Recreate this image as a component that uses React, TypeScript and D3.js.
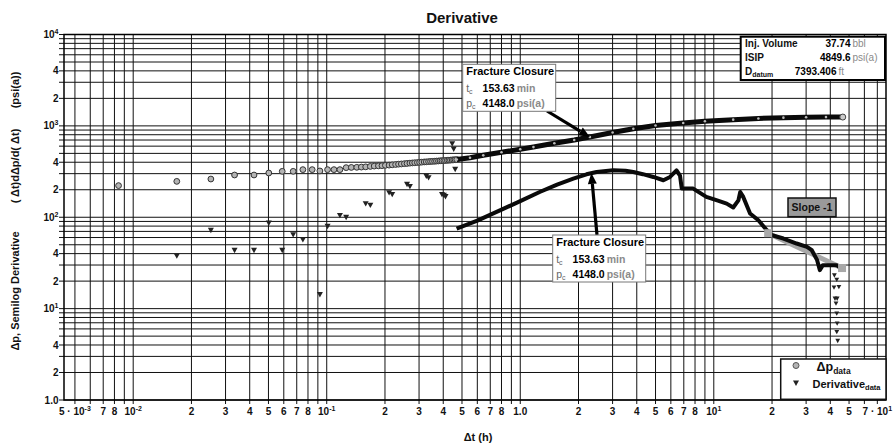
import React from "react";
import * as d3 from "d3";

// ---- values (time in h, pressure in psi) ----
// delta p, early sparse markers
const dpTime = [0.0084, 0.0168, 0.0252, 0.0334, 0.0421, 0.0502, 0.0589, 0.0671, 0.0753, 0.0841, 0.0922, 0.101, 0.109, 0.117,
  0.126, 0.134, 0.143, 0.151, 0.159, 0.168, 0.176, 0.185, 0.193, 0.201, 0.21, 0.218, 0.227, 0.235, 0.243, 0.252, 0.26, 0.269,
  0.277, 0.285, 0.294, 0.302, 0.31, 0.319, 0.327, 0.336, 0.344, 0.352, 0.361, 0.369, 0.378, 0.386, 0.394, 0.403, 0.411, 0.42,
  0.428, 0.436, 0.445, 0.453, 0.461, 0.47];
const dpValue = [222, 247, 262, 290, 290, 305, 318, 318, 332, 332, 321, 332, 332, 332,
  349, 351, 352, 354, 356, 360, 363, 365, 367, 370, 372, 375, 378, 381, 383, 386, 388, 391,
  393, 395, 397, 399, 401, 403, 404, 406, 408, 409, 410, 412, 413, 415, 416, 417, 418, 420,
  421, 422, 424, 425, 426, 428];
// delta p, dense part (markers overlap into a thick band)
const dpLineTime = [0.47, 0.55, 0.644, 0.8, 1.0, 1.17, 1.5, 1.9, 2.29, 3.0, 3.84, 5.0, 6.95, 9.0, 12.6, 17, 22.9, 30, 38, 46.4];
const dpLineValue = [428, 448, 476, 515, 555, 586, 645, 700, 755, 845, 931, 1010, 1074, 1125, 1170, 1205, 1230, 1242, 1247, 1249];

// semilog derivative, early sparse markers
const derivTime = [0.0168, 0.0252, 0.0334, 0.0421, 0.0502, 0.0589, 0.0671, 0.0753, 0.0922, 0.101, 0.117, 0.126, 0.159, 0.168,
  0.21, 0.218, 0.26, 0.269, 0.327, 0.336, 0.394, 0.403, 0.411, 0.445, 0.453, 0.461];
const derivValue = [37.8, 72.1, 43.6, 43.6, 86.7, 43.6, 64.7, 57.0, 14.3, 79.8, 105, 100, 141, 136,
  186, 178, 230, 218, 283, 272, 178, 174, 169, 640, 560, 335];
// semilog derivative, dense part
const derivLineTime = [0.469, 0.6, 0.785, 1.0, 1.26, 1.55, 1.88, 2.2, 2.48, 3.02, 3.5, 3.84, 4.3, 4.87, 5.49, 5.94, 6.42, 6.69,
  6.83, 7.83, 9.15, 10.5, 11.66, 12.6, 13.4, 13.7, 14.2, 15.4, 17.0, 18.8, 20, 22.9, 26.8, 30.3, 32.1, 34.2, 35.3, 36.6, 39.7,
  43.1, 45.7, 46.6];
const derivLineValue = [75.3, 92, 119, 150, 189, 228, 265, 295, 313, 326, 322, 313, 296, 276, 254, 276, 326, 286,
  206, 206, 167, 152, 141, 128, 153, 189, 167, 110, 92.7, 72.1, 63.6, 58.5, 51.6, 47.5, 43.6, 33.9, 26.4, 29.9, 29.9,
  29.9, 27.5, 29.1];
// late scattered derivative points
const derivTailTime = [42.0, 43.2, 41.8, 44.3, 42.3, 43.4, 42.8, 43.2, 43.4, 43.2, 43.7];
const derivTailValue = [23.2, 20.8, 17.1, 17.3, 12.9, 12.9, 11.4, 8.87, 6.89, 5.57, 4.45];

// slope -1 guide
const slopeTime = [19.1, 46.0];
const slopeValue = [66.9, 27.8];

// closure pointers (arrow tips)
const closureDp = [2.29, 755];
const closureDeriv = [2.33, 305];

const xTickValues = [0.005, 0.007, 0.008, 0.01, 0.02, 0.03, 0.04, 0.05, 0.06, 0.07, 0.08, 0.1,
  0.2, 0.3, 0.4, 0.5, 0.6, 0.7, 0.8, 1, 2, 3, 4, 5, 6, 7, 8, 10, 20, 30, 40, 50, 70];
const xTickLabels = ["5 · 10^-3", "7", "8", "10^-2", "2", "3", "4", "5", "6", "7", "8", "10^-1",
  "2", "3", "4", "5", "6", "7", "8", "1.0", "2", "3", "4", "5", "6", "7", "8", "10^1", "2", "3", "4", "5", "7 · 10^1"];
const yTickValues = [1, 2, 4, 10, 20, 40, 100, 200, 400, 1000, 2000, 4000, 10000];
const yTickLabels = ["1.0", "2", "4", "10^1", "2", "4", "10^2", "2", "4", "10^3", "2", "4", "10^4"];

const infoLabels = ["Inj. Volume", "ISIP", "D_datum"];
const infoValues = ["37.74", "4849.6", "7393.406"];
const infoUnits = ["bbl", "psi(a)", "ft"];

const FONT = "Arial, 'Liberation Sans', Helvetica, sans-serif";

// "10^-2" -> superscript, "p_c" -> subscript
function rich(s: string, small: number, shift: number) {
  const m = s.match(/^(.*?)([\^_])(.*)$/);
  if (!m) return s;
  const up = m[2] === "^";
  return [
    <tspan key="a">{m[1]}</tspan>,
    <tspan key="b" fontSize={small} dy={up ? -shift : shift * 0.7}>{m[3]}</tspan>,
  ];
}

function Arrow({ x1, y1, x2, y2 }: { x1: number; y1: number; x2: number; y2: number }) {
  const a = Math.atan2(y2 - y1, x2 - x1);
  const L = 11, hw = 4.5;
  const bx = x2 - L * Math.cos(a), by = y2 - L * Math.sin(a);
  const px = -Math.sin(a) * hw, py = Math.cos(a) * hw;
  return (
    <g>
      <line x1={x1} y1={y1} x2={bx} y2={by} stroke="#000" strokeWidth={3.2} />
      <path d={`M${x2},${y2}L${bx + px},${by + py}L${bx - px},${by - py}Z`} fill="#000" />
    </g>
  );
}

function ClosureBox({ x0, y0 }: { x0: number; y0: number }) {
  return (
    <g fontFamily={FONT}>
      <rect x={x0} y={y0} width={93} height={47} fill="#fff" stroke="#777" strokeWidth={1} />
      <text x={x0 + 3.5} y={y0 + 10.5} fontSize={11} fontWeight="bold" fill="#000">Fracture Closure</text>
      <text x={x0 + 3.5} y={y0 + 28} fontSize={10.5} fill="#666">{rich("t_c", 7, 3)}</text>
      <text x={x0 + 52} y={y0 + 28} fontSize={10.5} fontWeight="bold" fill="#000" textAnchor="end">153.63</text>
      <text x={x0 + 54} y={y0 + 28} fontSize={10.5} fontWeight="bold" fill="#8a8a8a">min</text>
      <text x={x0 + 3.5} y={y0 + 43} fontSize={10.5} fill="#666">{rich("p_c", 7, 3)}</text>
      <text x={x0 + 52} y={y0 + 43} fontSize={10.5} fontWeight="bold" fill="#000" textAnchor="end">4148.0</text>
      <text x={x0 + 54} y={y0 + 43} fontSize={10.5} fontWeight="bold" fill="#8a8a8a">psi(a)</text>
    </g>
  );
}

function TriDown({ cx, cy, s = 1 }: { cx: number; cy: number; s?: number }) {
  return <path d={`M${cx - 3 * s},${cy - 2.4 * s}L${cx + 3 * s},${cy - 2.4 * s}L${cx},${cy + 3 * s}Z`} fill="#222" />;
}

export default function App() {
  const width = 893, height = 447;
  const left = 64, right = 886, top = 34.5, bottom = 400;

  const x = d3.scaleLog().domain([0.00439, 77.6]).range([left, right]);
  const y = d3.scaleLog().domain([1, 10000]).range([bottom, top]);
  const line = d3.line<number>();

  const dpLine = d3.line<number>().x((d, i) => x(dpLineTime[i])).y(d => y(d))(dpLineValue) || "";
  const derivLine = d3.line<number>().x((d, i) => x(derivLineTime[i])).y(d => y(d))(derivLineValue) || "";
  const slopeLine = d3.line<number>().x((d, i) => x(slopeTime[i])).y(d => y(d))(slopeValue) || "";
  void line;

  const gx = x.ticks();
  const gy = y.ticks();

  const a1 = { x: x(closureDp[0]), y: y(closureDp[1]) };
  const a2 = { x: x(closureDeriv[0]), y: y(closureDeriv[1]) };

  return (
    <div>
      <style>{"body{margin:0}"}</style>
      <svg width={width} height={height} style={{ display: "block", background: "#fff" }}>
        {/* grid */}
        <g>
          {gx.map((t, i) => (
            <line key={"gx" + i} x1={x(t)} x2={x(t)} y1={top} y2={bottom + 4} stroke="#111" strokeWidth={1} />
          ))}
          {gy.map((v, i) => (
            <line key={"gy" + i} x1={left - 5} x2={right} y1={y(v)} y2={y(v)} stroke="#111" strokeWidth={1} />
          ))}
        </g>
        <rect x={left} y={top} width={right - left} height={bottom - top} fill="none" stroke="#000" strokeWidth={1.5} />

        {/* slope -1 guide */}
        <path d={slopeLine} fill="none" stroke="#a8a8a8" strokeWidth={5} />

        {/* delta p */}
        {dpValue.map((v, i) => (
          <circle key={"dp" + i} cx={x(dpTime[i])} cy={y(v)} r={2.9} fill="#b4b4b4" stroke="#333" strokeWidth={1} />
        ))}
        <path d={dpLine} fill="none" stroke="#0a0a0a" strokeWidth={5} strokeLinejoin="round" />
        {dpLineValue.map((v, i) => (
          <circle key={"dpl" + i} cx={x(dpLineTime[i])} cy={y(v)} r={1.3} fill="#bbb" />
        ))}
        <circle cx={x(dpLineTime[dpLineTime.length - 1])} cy={y(dpLineValue[dpLineValue.length - 1])} r={3} fill="#ccc" stroke="#444" strokeWidth={1} />

        {/* derivative */}
        {derivValue.map((v, i) => (
          <TriDown key={"dv" + i} cx={x(derivTime[i])} cy={y(v)} />
        ))}
        <path d={derivLine} fill="none" stroke="#0a0a0a" strokeWidth={4} strokeLinejoin="round" />
        {derivTailValue.map((v, i) => (
          <TriDown key={"dt" + i} cx={x(derivTailTime[i])} cy={y(v)} s={0.8} />
        ))}
        {slopeValue.map((v, i) => (
          <rect key={"sq" + i} x={x(slopeTime[i]) - 4} y={y(v) - 4} width={8} height={8} fill="#a8a8a8" />
        ))}

        {/* axis tick labels */}
        <g fontFamily={FONT} fontSize={10} fontWeight="bold" fill="#111">
          {xTickValues.map((t, i) => (
            <text key={"xl" + i} x={x(t)} y={415} textAnchor="middle">{rich(xTickLabels[i], 7, 4)}</text>
          ))}
          {yTickValues.map((v, i) => (
            <text key={"yl" + i} x={58.5} y={y(v) + 3.6} textAnchor="end">{rich(yTickLabels[i], 7, 4)}</text>
          ))}
        </g>

        {/* titles */}
        <text x={462} y={23} textAnchor="middle" fontFamily={FONT} fontSize={15} fontWeight="bold" fill="#111">Derivative</text>
        <text x={478} y={441} textAnchor="middle" fontFamily={FONT} fontSize={11} fontWeight="bold" fill="#111">Δt (h)</text>
        <g fontFamily={FONT} fontSize={11} fontWeight="bold" fill="#111">
          <text transform="translate(18.5,291) rotate(-90)" textAnchor="middle">Δp, Semilog Derivative</text>
          <text transform="translate(18.5,166) rotate(-90)" textAnchor="middle">( Δt)dΔp/d( Δt)</text>
          <text transform="translate(18.5,90) rotate(-90)" textAnchor="middle">(psi(a))</text>
        </g>

        {/* closure annotations */}
        <Arrow x1={547} y1={111} x2={a1.x} y2={a1.y} />
        <ClosureBox x0={462.7} y0={64.3} />
        <Arrow x1={597} y1={235} x2={a2.x} y2={a2.y} />
        <ClosureBox x0={552.7} y0={235} />

        {/* info box */}
        <g fontFamily={FONT} fontSize={10} fontWeight="bold">
          <rect x={740.7} y={36.7} width={144.3} height={43.3} fill="#fff" stroke="#000" strokeWidth={2} />
          {infoLabels.map((s, i) => (
            <text key={"il" + i} x={745} y={47.3 + i * 14} fill="#111">{rich(s, 7, 3)}</text>
          ))}
          {infoValues.map((s, i) => (
            <text key={"iv" + i} x={i === 2 ? 836.5 : 850.5} y={47.3 + i * 14} fill="#000" textAnchor="end">{s}</text>
          ))}
          {infoUnits.map((s, i) => (
            <text key={"iu" + i} x={i === 2 ? 838.5 : 852.5} y={47.3 + i * 14} fill="#8a8a8a" fontWeight="normal">{s}</text>
          ))}
        </g>

        {/* slope label */}
        <rect x={788} y={198} width={48} height={18.7} fill="#9a9a9a" stroke="#111" strokeWidth={1.5} />
        <text x={812} y={211} textAnchor="middle" fontFamily={FONT} fontSize={10.5} fontWeight="bold" fill="#111">Slope -1</text>

        {/* legend */}
        <g fontFamily={FONT} fontWeight="bold" fill="#111">
          <rect x={780.7} y={359} width={105.3} height={40.3} fill="#fff" stroke="#111" strokeWidth={1.5} />
          <circle cx={796} cy={365.5} r={3} fill="#b4b4b4" stroke="#555" strokeWidth={1} />
          <text x={816.5} y={371} fontSize={12.5}>{rich("Δp_data", 8.5, 4)}</text>
          <TriDown cx={796} cy={383} />
          <text x={812.5} y={387.5} fontSize={11}>{rich("Derivative_data", 7.5, 3.5)}</text>
        </g>
      </svg>
    </div>
  );
}
